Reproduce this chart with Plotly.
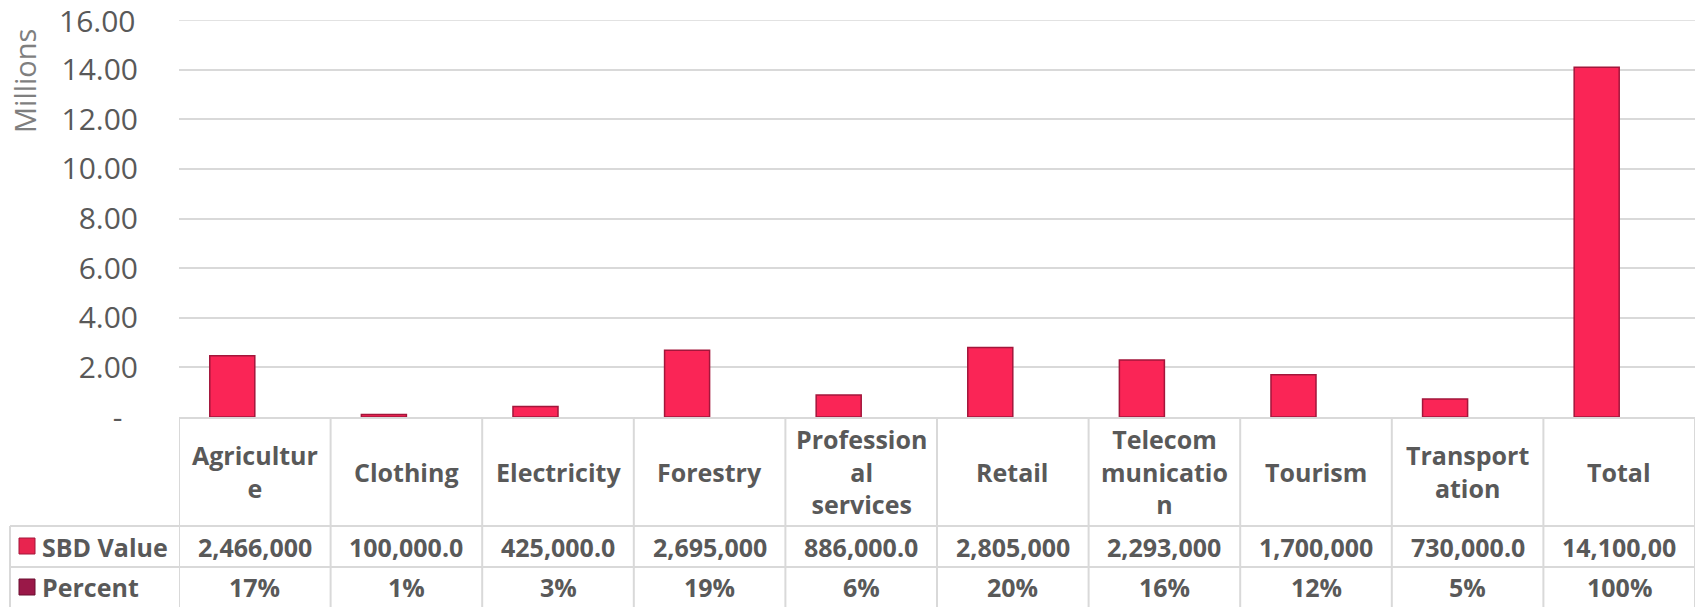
import plotly.graph_objects as go

categories = ["Agriculture", "Clothing", "Electricity", "Forestry", "Professional services",
              "Retail", "Telecommunication", "Tourism", "Transportation", "Total"]
category_labels = ["Agricultur<br>e", "Clothing", "Electricity", "Forestry",
                   "Profession<br>al<br>services", "Retail", "Telecom<br>municatio<br>n",
                   "Tourism", "Transport<br>ation", "Total"]
sbd_value = [2466000, 100000, 425000, 2695000, 886000, 2805000, 2293000, 1700000, 730000, 14100000]
percent = [17, 1, 3, 19, 6, 20, 16, 12, 5, 100]
y_max = 16
y_step = 2
zero_label = "-\u00a0\u00a0"

W, H = 1700, 607
L, R, T, B = 179, 5, 20, 190
PW, PH = W - L - R, H - T - B
base_y = H - B

def px(x):
    return (x - L) / PW

def py(y):
    return (base_y - y) / PH

GRAY = "#595959"
LINE = "#d9d9d9"
FONT = "Open Sans"
xs = list(range(len(categories)))

fig = go.Figure()
fig.add_trace(go.Bar(x=xs, y=[v / 1e6 for v in sbd_value], name="SBD Value",
                     marker=dict(color="#fa2556", line=dict(color="#a3163b", width=1.5))))
fig.add_trace(go.Bar(x=xs, y=[p / 100 / 1e6 for p in percent], name="Percent",
                     marker=dict(color="#9a1848", line=dict(width=0))))

shapes = []
annotations = []

# top gridline drawn explicitly (at the edge of the plot range)
shapes.append(dict(type="line", xref="paper", yref="y", x0=0, x1=1, y0=y_max, y1=y_max,
                   line=dict(color=LINE, width=1.5)))
annotations.append(dict(text=f"{y_max:.2f}", xref="paper", yref="y", x=px(138), y=y_max,
                        xanchor="right", yanchor="middle", showarrow=False,
                        font=dict(family=FONT, size=30, color=GRAY)))

# table lines
row1_top, row2_top, row3_top, row3_bot = 417, 526, 567, 607
for y in (row2_top, row3_top):
    shapes.append(dict(type="line", xref="paper", yref="paper", x0=px(10), x1=px(1695),
                       y0=py(y), y1=py(y), line=dict(color=LINE, width=2)))
for k in range(len(categories) + 1):
    shapes.append(dict(type="line", xref="x", yref="paper", x0=k - 0.5, x1=k - 0.5,
                       y0=py(row1_top), y1=py(row3_bot + 5), line=dict(color=LINE, width=2)))
shapes.append(dict(type="line", xref="paper", yref="paper", x0=px(10), x1=px(10),
                   y0=py(row2_top), y1=py(row3_bot + 5), line=dict(color=LINE, width=2)))

# legend keys
shapes.append(dict(type="rect", xref="paper", yref="paper", x0=px(19), x1=px(35),
                   y0=py(538), y1=py(554), fillcolor="#e8244f", line=dict(color="#a3163b", width=1)))
shapes.append(dict(type="rect", xref="paper", yref="paper", x0=px(19), x1=px(35),
                   y0=py(579), y1=py(595), fillcolor="#9a1848", line=dict(color="#6a0f30", width=1)))

tfont = dict(family=FONT, size=25, color=GRAY, weight="bold")
annotations.append(dict(text="SBD Value", xref="paper", yref="paper", x=px(40), y=py(546.5),
                        xanchor="left", yanchor="middle", showarrow=False, font=tfont))
annotations.append(dict(text="Percent", xref="paper", yref="paper", x=px(40), y=py(587),
                        xanchor="left", yanchor="middle", showarrow=False, font=tfont))

for i, (lab, v, p) in enumerate(zip(category_labels, sbd_value, percent)):
    annotations.append(dict(text=lab, xref="x", yref="paper", x=i, y=py(471.5),
                            xanchor="center", yanchor="middle", showarrow=False, font=tfont))
    annotations.append(dict(text=f"{v:,.2f}"[:9], xref="x", yref="paper", x=i, y=py(546.5),
                            xanchor="center", yanchor="middle", showarrow=False, font=tfont))
    annotations.append(dict(text=f"{p}%", xref="x", yref="paper", x=i, y=py(587),
                            xanchor="center", yanchor="middle", showarrow=False, font=tfont))

annotations.append(dict(text="Millions", xref="paper", yref="paper", x=px(24), y=py(81),
                        xanchor="center", yanchor="middle", textangle=-90, showarrow=False,
                        font=dict(family=FONT, size=29, color="#7f7f7f")))

fig.update_layout(
    width=W, height=H,
    margin=dict(l=L, r=R, t=T, b=B, pad=0),
    paper_bgcolor="white", plot_bgcolor="white",
    barmode="group", bargap=0.406, bargroupgap=0,
    showlegend=False,
    shapes=shapes, annotations=annotations,
    font=dict(family=FONT, color=GRAY),
    xaxis=dict(range=[-0.5, len(categories) - 0.5], showticklabels=False, showgrid=False,
               zeroline=False, showline=True, linecolor=LINE, linewidth=2, fixedrange=True),
    yaxis=dict(range=[0, y_max], tickmode="linear", tick0=0, dtick=y_step, tickformat=".2f",
               labelalias={"0.00": zero_label}, showgrid=True,
               gridcolor=LINE, gridwidth=1.5, zeroline=False, showline=False,
               ticks="", ticklabelstandoff=40,
               tickfont=dict(family=FONT, size=30, color=GRAY), fixedrange=True),
)

fig.write_html("out.html")
